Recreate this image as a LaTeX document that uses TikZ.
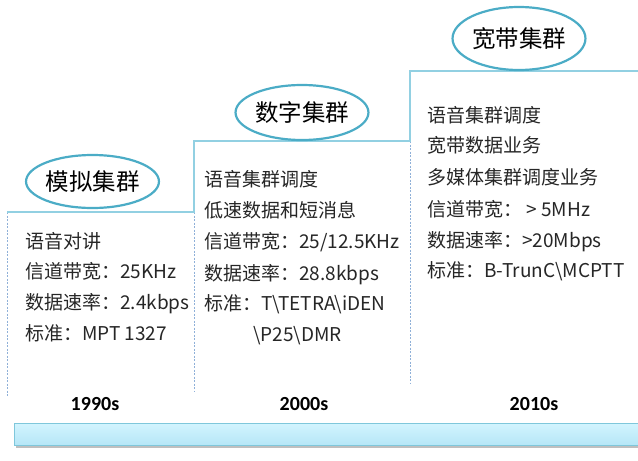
\documentclass[tikz,border=0pt]{standalone}
\usepackage{fontspec}
\newfontfamily\cjk{Noto Sans CJK SC}
\newfontfamily\yr{Carlito}
\usetikzlibrary{shapes.geometric}
\definecolor{stairc}{HTML}{92D0E2}
\definecolor{ellc}{HTML}{4BACC6}
\definecolor{dashc}{HTML}{8FB0D8}
\definecolor{txt}{HTML}{262626}
\definecolor{bartop}{HTML}{D2F4FE}
\definecolor{barbot}{HTML}{B5E6F7}
\definecolor{barline}{HTML}{7FC7DB}
\tikzset{
  stair/.style={draw=stairc, line width=1.2pt},
  sidedash/.style={draw=dashc, line width=0.9pt, dash pattern=on 2pt off 1.5pt},
  era/.style={ellipse, draw=ellc, line width=2.2pt, fill=white, inner sep=0pt,
    font=\cjk\fontsize{23.5}{26}\selectfont, text=black},
  item/.style={anchor=west, inner sep=0pt, text height=0.85em, text depth=0.15em,
    font=\cjk\fontsize{19}{22}\selectfont, text=txt},
  yearlbl/.style={inner sep=0pt, font=\yr\bfseries\fontsize{20}{22}\selectfont, text=black}
}
\begin{document}
\begin{tikzpicture}[x=1pt,y=-1pt]
\useasboundingbox (0,0) rectangle (638,461);
% staircase corners
\coordinate (a0) at (7,212);
\coordinate (a1) at (194,212);
\coordinate (b0) at (194,141);
\coordinate (b1) at (410,141);
\coordinate (c0) at (410,71);
\coordinate (c1) at (638,71);
\coordinate (a0e) at (7,397);
\coordinate (a1e) at (194,391);
\coordinate (b1e) at (410,384);
% dashed sides
\draw[sidedash] (a0) -- (a0e);
\draw[sidedash] (a1) -- (a1e);
\draw[sidedash] (b1) -- (b1e);
% staircase
\draw[stair] (a0) -- (a1) -- (b0) -- (b1) -- (c0) -- (c1);
% ellipses
\node[era, minimum width=129pt, minimum height=53pt] (e1) at (92.5,181.5) {模拟集群};
\node[era, minimum width=130pt, minimum height=55pt] (e2) at (302,112.5) {数字集群};
\node[era, minimum width=128pt, minimum height=63pt] (e3) at (519,38.5) {宽带集群};
% step 1
\node[item] (t11) at (25,245) {语音对讲};
\node[item] (t12) at (25,275) {信道带宽：25KHz};
\node[item] (t13) at (25,306) {数据速率：2.4kbps};
\node[item] (t14) at (25,337) {标准：MPT 1327};
% step 2
\node[item] (t21) at (204,183) {语音集群调度};
\node[item] (t22) at (204,214) {低速数据和短消息};
\node[item] (t23) at (204,245) {信道带宽：25/12.5KHz};
\node[item] (t24) at (204,277) {数据速率：28.8kbps};
\node[item] (t25) at (204,307) {标准：T\textbackslash TETRA\textbackslash iDEN};
\node[item] (t26) at (253,338) {\textbackslash P25\textbackslash DMR};
% step 3
\node[item] (t31) at (427,119) {语音集群调度};
\node[item] (t32) at (427,149) {宽带数据业务};
\node[item] (t33) at (427,181) {多媒体集群调度业务};
\node[item] (t34) at (427,213) {信道带宽： > 5MHz};
\node[item] (t35) at (427,244) {数据速率：>20Mbps};
\node[item] (t36) at (427,274) {标准：B-TrunC\textbackslash MCPTT};
% years
\node[yearlbl] (y1) at (95,404) {1990s};
\node[yearlbl] (y2) at (304,404) {2000s};
\node[yearlbl] (y3) at (534,404) {2010s};
% timeline bar
\fill[black!25] (16,426) rectangle (640,448);
\node[draw=barline, line width=1pt, top color=bartop, bottom color=barbot,
  minimum width=630pt, minimum height=22pt, inner sep=0pt, anchor=north west] (bar) at (14,423) {};
\end{tikzpicture}
\end{document}
